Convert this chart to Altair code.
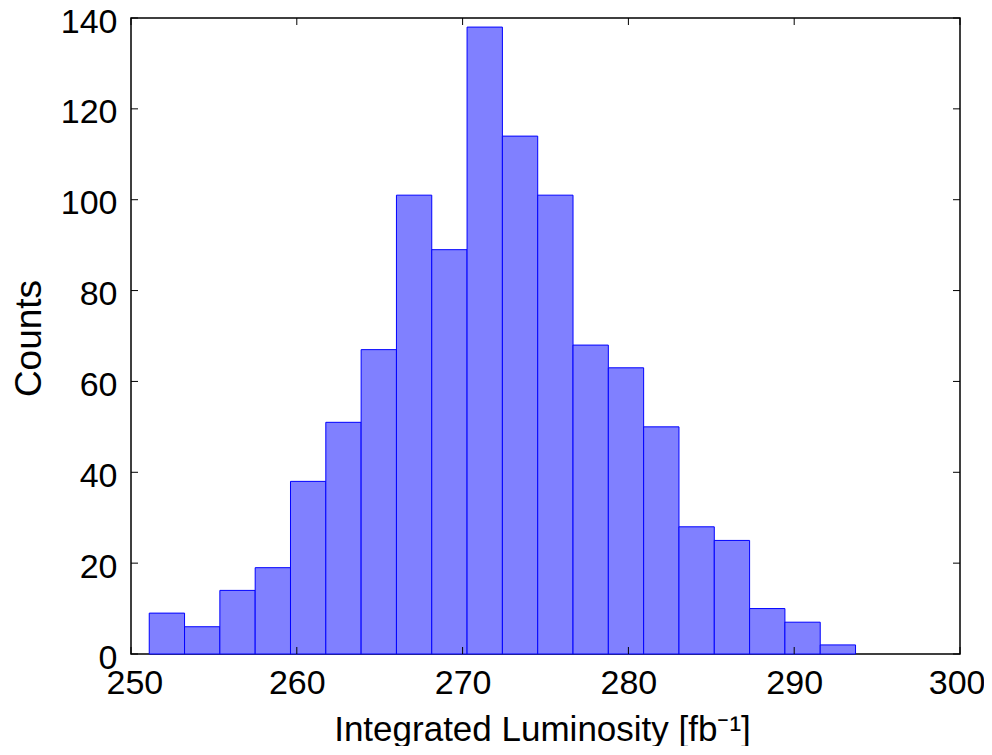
import altair as alt
import pandas as pd

# Histogram data (20 bins between min and max of the sample)
bin_lo = 251.1
bin_hi = 293.7
counts = [9, 6, 14, 19, 38, 51, 67, 101, 89, 138, 114, 101, 68, 63, 50, 28, 25, 10, 7, 2]
x_ticks = [250, 260, 270, 280, 290, 300]
y_ticks = [0, 20, 40, 60, 80, 100, 120, 140]

n = len(counts)
w = (bin_hi - bin_lo) / n
df = pd.DataFrame({
    "start": [bin_lo + i * w for i in range(n)],
    "end": [bin_lo + (i + 1) * w for i in range(n)],
    "count": counts,
})
xt = pd.DataFrame({"start": x_ticks})
yt = pd.DataFrame({"count": y_ticks})

W, H = 829, 636
FONT = "Liberation Sans"
TL = 7  # inward tick length

xs = alt.Scale(domain=[250, 300], nice=False, zero=False)
ys = alt.Scale(domain=[0, 140], nice=False, zero=True)

x_axis = alt.Axis(
    values=x_ticks, title="Integrated Luminosity [fb⁻¹]",
    labelPadding=39, labelBaseline="alphabetic",
    labelFlush=True, labelFlushOffset=25,
    titleX=411, titleY=86, titleAlign="center", titleBaseline="alphabetic",
    titleFontSize=35,
)
y_axis = alt.Axis(
    values=y_ticks, title="Counts", labelPadding=14, labelOffset=4,
    labelFlush=False,
    titleX=-102, titleY=H / 2 + 2, titleAlign="center", titleBaseline="middle",
    titleFontSize=37,
)

bars = alt.Chart(df).mark_rect(fill="#8080ff", stroke="#0000ff", strokeWidth=1).encode(
    x=alt.X("start:Q", scale=xs, axis=x_axis),
    x2="end:Q",
    y=alt.Y("count:Q", scale=ys, axis=y_axis),
    y2=alt.datum(0),
)

x_bottom = alt.Chart(xt).mark_rule(color="black", strokeWidth=1).encode(
    x=alt.X("start:Q", scale=xs, axis=x_axis), y=alt.value(H), y2=alt.value(H - TL))
x_top = alt.Chart(xt).mark_rule(color="black", strokeWidth=1).encode(
    x=alt.X("start:Q", scale=xs, axis=x_axis), y=alt.value(0), y2=alt.value(TL))
y_left = alt.Chart(yt).mark_rule(color="black", strokeWidth=1).encode(
    y=alt.Y("count:Q", scale=ys, axis=y_axis), x=alt.value(0), x2=alt.value(TL))
y_right = alt.Chart(yt).mark_rule(color="black", strokeWidth=1).encode(
    y=alt.Y("count:Q", scale=ys, axis=y_axis), x=alt.value(W), x2=alt.value(W - TL))

chart = alt.layer(bars, x_bottom, x_top, y_left, y_right).properties(
    width=W, height=H,
    background="white",
    autosize=alt.AutoSizeParams(type="none"),
    padding={"left": 123, "top": 10, "right": 24, "bottom": 92},
).configure_view(
    stroke="black", strokeWidth=1.5,
).configure_axis(
    domain=False, ticks=False, tickSize=0, grid=False,
    labelFont=FONT, labelFontSize=34, labelColor="black",
    labelOverlap=False, labelBound=False,
    titleFont=FONT, titleFontWeight="normal", titleColor="black",
)

chart.save("out.html", embed_options={"renderer": "svg", "actions": False})
